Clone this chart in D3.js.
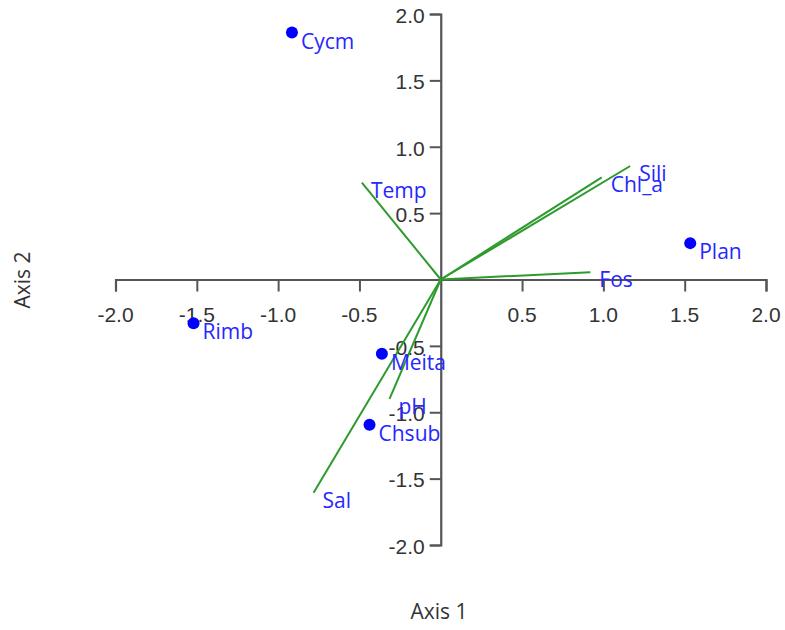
<!DOCTYPE html>
<html>
<head>
<meta charset="utf-8">
<script src="https://cdn.jsdelivr.net/npm/d3@7"></script>
<style>
  html, body { margin: 0; padding: 0; background: #fff; }
  svg { display: block; font-family: "Open Sans", "Noto Sans", sans-serif; }
</style>
</head>
<body>
<svg id="chart" width="785" height="630"></svg>
<script>
// Site scores (points)
const siteNames = ["Cycm", "Rimb", "Meita", "Chsub", "Plan"];
const siteX = [-0.915, -1.52, -0.362, -0.438, 1.534];
const siteY = [1.86, -0.33, -0.56, -1.095, 0.274];

// Environmental vectors
const varNames = ["Temp", "Sili", "Chl_a", "Fos", "Sal", "pH"];
const varX = [-0.485, 1.165, 0.99, 0.92, -0.782, -0.315];
const varY = [0.729, 0.855, 0.77, 0.055, -1.607, -0.90];

// Axis ticks
const tickValues = [-2.0, -1.5, -1.0, -0.5, 0.5, 1.0, 1.5, 2.0];
const axisTitleX = "Axis 1";
const axisTitleY = "Axis 2";

const svg = d3.select("#chart");
const x = d3.scaleLinear().domain([-2, 2]).range([115.5, 766]);
const y = d3.scaleLinear().domain([-2, 2]).range([545, 14]);
const fmt = d => d3.format(".1f")(d).replace("\u2212", "-");

const axisColor = "#555";
const labelColor = "#333";
const fontSize = 21;

// X axis (through origin)
const gx = svg.append("g").attr("transform", `translate(0,${y(0)})`);
gx.call(d3.axisBottom(x).tickValues(tickValues.concat([0])).tickSize(12).tickFormat(""));
gx.select(".domain").attr("stroke", axisColor).attr("stroke-width", 2.2);
gx.selectAll(".tick line").attr("stroke", axisColor).attr("stroke-width", 2);
gx.selectAll(".tick").filter(d => d === 0).remove();
gx.selectAll(".tlab").data(tickValues).enter().append("text")
  .attr("x", d => x(d)).attr("y", 42)
  .attr("text-anchor", "middle")
  .attr("fill", labelColor).attr("font-size", fontSize)
  .text(fmt);

// Y axis
const gy = svg.append("g").attr("transform", `translate(${x(0)},0)`);
gy.call(d3.axisLeft(y).tickValues(tickValues).tickSize(11).tickFormat(""));
gy.select(".domain").attr("stroke", axisColor).attr("stroke-width", 2.2);
gy.selectAll(".tick line").attr("stroke", axisColor).attr("stroke-width", 2);
gy.selectAll(".tlab").data(tickValues).enter().append("text")
  .attr("x", -16).attr("y", d => y(d)).attr("dy", "0.42em")
  .attr("text-anchor", "end")
  .attr("fill", labelColor).attr("font-size", fontSize)
  .text(fmt);

// Vectors
const vecs = varNames.map((n, i) => ({ n, x: varX[i], y: varY[i] }));
svg.append("g").selectAll("line").data(vecs).enter().append("line")
  .attr("x1", x(0)).attr("y1", y(0))
  .attr("x2", d => x(d.x)).attr("y2", d => y(d.y))
  .attr("stroke", "#2e9b2e").attr("stroke-width", 2);
svg.append("g").selectAll("text").data(vecs).enter().append("text")
  .attr("x", d => x(d.x) + 9).attr("y", d => y(d.y) + 15)
  .attr("fill", "#2626ff").attr("font-size", fontSize)
  .text(d => d.n);

// Sites
const sites = siteNames.map((n, i) => ({ n, x: siteX[i], y: siteY[i] }));
svg.append("g").selectAll("circle").data(sites).enter().append("circle")
  .attr("cx", d => x(d.x)).attr("cy", d => y(d.y)).attr("r", 6)
  .attr("fill", "#0000ff");
svg.append("g").selectAll("text").data(sites).enter().append("text")
  .attr("x", d => x(d.x) + 9).attr("y", d => y(d.y) + 16)
  .attr("fill", "#2626ff").attr("font-size", fontSize)
  .text(d => d.n);

// Axis titles
svg.append("text").attr("x", 439).attr("y", 619)
  .attr("text-anchor", "middle").attr("fill", labelColor).attr("font-size", fontSize)
  .text(axisTitleX);
svg.append("text").attr("transform", "translate(30,280) rotate(-90)")
  .attr("text-anchor", "middle").attr("fill", labelColor).attr("font-size", fontSize)
  .text(axisTitleY);
</script>
</body>
</html>
